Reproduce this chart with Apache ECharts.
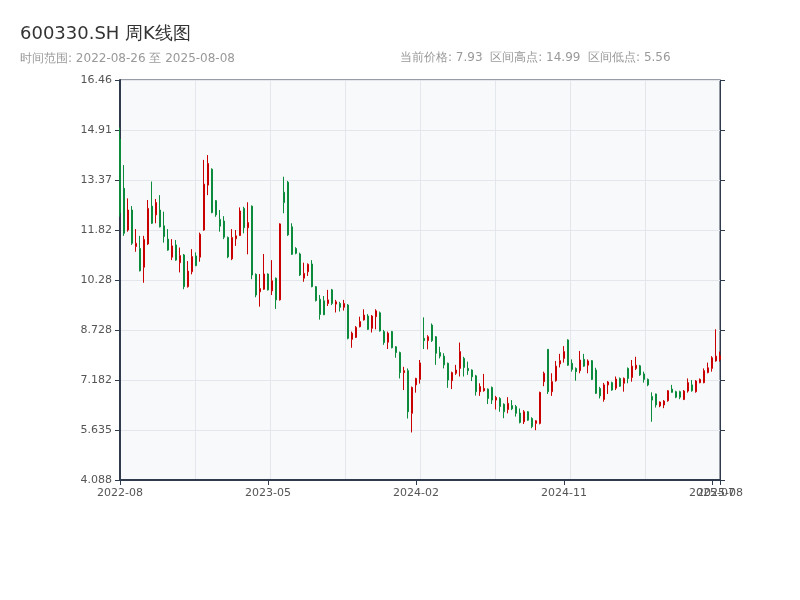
<!DOCTYPE html>
<html>
<head>
<meta charset="utf-8">
<script src="https://cdn.jsdelivr.net/npm/echarts@6.0.0/dist/echarts.min.js"></script>
<style>html,body{margin:0;padding:0;background:#fff;}#main{width:800px;height:600px;}</style>
</head>
<body>
<div id="main"></div>
<script>
const dates = [
'2022-08-26','2022-09-02','2022-09-09','2022-09-16','2022-09-23','2022-09-30','2022-10-14','2022-10-21','2022-10-28','2022-11-04',
'2022-11-11','2022-11-18','2022-11-25','2022-12-02','2022-12-09','2022-12-16','2022-12-23','2022-12-30','2023-01-06','2023-01-13',
'2023-01-20','2023-02-03','2023-02-10','2023-02-17','2023-02-24','2023-03-03','2023-03-10','2023-03-17','2023-03-24','2023-03-31',
'2023-04-07','2023-04-14','2023-04-21','2023-04-28','2023-05-05','2023-05-12','2023-05-19','2023-05-26','2023-06-02','2023-06-09',
'2023-06-16','2023-06-21','2023-06-30','2023-07-07','2023-07-14','2023-07-21','2023-07-28','2023-08-04','2023-08-11','2023-08-18',
'2023-08-25','2023-09-01','2023-09-08','2023-09-15','2023-09-22','2023-09-28','2023-10-13','2023-10-20','2023-10-27','2023-11-03',
'2023-11-10','2023-11-17','2023-11-24','2023-12-01','2023-12-08','2023-12-15','2023-12-22','2023-12-29','2024-01-05','2024-01-12',
'2024-01-19','2024-01-26','2024-02-02','2024-02-08','2024-02-23','2024-03-01','2024-03-08','2024-03-15','2024-03-22','2024-03-29',
'2024-04-03','2024-04-12','2024-04-19','2024-04-26','2024-04-30','2024-05-10','2024-05-17','2024-05-24','2024-05-31','2024-06-07',
'2024-06-14','2024-06-21','2024-06-28','2024-07-05','2024-07-12','2024-07-19','2024-07-26','2024-08-02','2024-08-09','2024-08-16',
'2024-08-23','2024-08-30','2024-09-06','2024-09-13','2024-09-20','2024-09-27','2024-09-30','2024-10-11','2024-10-18','2024-10-25',
'2024-11-01','2024-11-08','2024-11-15','2024-11-22','2024-11-29','2024-12-06','2024-12-13','2024-12-20','2024-12-27','2025-01-03',
'2025-01-10','2025-01-17','2025-01-24','2025-01-27','2025-02-07','2025-02-14','2025-02-21','2025-02-28','2025-03-07','2025-03-14',
'2025-03-21','2025-03-28','2025-04-03','2025-04-11','2025-04-18','2025-04-25','2025-04-30','2025-05-09','2025-05-16','2025-05-23',
'2025-05-30','2025-06-06','2025-06-13','2025-06-20','2025-06-27','2025-07-04','2025-07-11','2025-07-18','2025-07-25','2025-08-01',
'2025-08-08'
];
const opens = [
14.63,13.11,11.82,12.44,11.31,11.25,10.67,11.39,12.56,12.29,
12.44,11.95,11.54,10.98,11.36,10.81,11.05,10.07,10.53,11.02,
10.98,11.82,13.21,13.70,12.73,12.15,12.10,11.59,10.93,11.55,
11.65,12.49,11.89,12.56,10.45,9.91,9.99,10.46,9.94,10.33,
9.66,12.99,13.30,11.92,11.25,11.08,10.33,10.53,10.77,10.07,
9.68,9.63,9.55,9.97,9.53,9.55,9.43,9.50,8.44,8.50,
8.83,9.04,9.16,8.78,9.14,9.26,8.68,8.35,8.68,8.21,
8.03,7.41,7.47,6.15,7.03,7.20,8.47,8.40,8.88,8.52,
8.03,7.92,7.70,7.16,7.39,7.54,7.85,7.54,7.49,7.31,
6.82,6.85,6.90,6.95,6.56,6.61,6.43,6.27,6.39,6.36,
6.16,5.89,6.20,5.99,5.84,5.84,7.13,8.13,6.82,7.16,
7.68,7.85,8.42,7.70,7.54,7.47,7.82,7.64,7.78,7.49,
6.92,6.58,7.03,7.10,6.93,7.23,7.08,7.54,7.26,7.54,
7.62,7.37,7.20,6.67,6.75,6.38,6.41,6.54,6.90,6.82,
6.82,6.58,6.84,7.03,6.82,7.10,7.10,7.41,7.54,7.77,
7.82
];
const closes = [
12.35,11.72,12.44,11.41,11.41,10.56,11.53,12.49,12.03,12.67,
11.92,11.62,11.20,11.33,10.89,11.03,10.07,10.55,11.00,10.72,
11.69,13.24,13.88,12.36,12.29,11.94,11.60,10.99,11.59,11.64,
12.41,11.89,12.05,10.43,9.81,10.01,10.46,9.97,10.25,9.66,
12.01,12.67,11.67,11.07,11.10,10.43,10.48,10.76,10.07,9.64,
9.21,9.20,9.66,9.55,9.60,9.43,9.55,8.47,8.63,8.81,
8.99,9.19,8.75,9.16,9.32,8.70,8.34,8.63,8.18,8.03,
7.41,7.47,6.20,6.95,7.23,7.71,8.40,8.52,8.40,8.01,
7.92,7.65,7.18,7.41,7.49,8.06,7.57,7.47,7.28,6.82,
6.98,6.92,6.61,6.56,6.64,6.36,6.20,6.46,6.29,6.15,
5.87,6.20,5.94,5.74,5.92,6.80,7.39,6.82,7.13,7.61,
7.78,8.06,7.64,7.51,7.44,7.80,7.61,7.77,7.20,6.77,
6.69,7.03,7.12,6.87,7.21,6.99,7.23,7.23,7.61,7.64,
7.34,7.20,7.03,6.56,6.41,6.50,6.53,6.85,6.80,6.65,
6.65,6.84,7.10,6.85,7.15,7.20,7.47,7.56,7.87,7.92,
7.93
];
const lows = [
12.23,11.64,11.77,11.36,11.15,10.54,10.19,11.36,12.01,12.03,
11.90,11.43,11.18,10.89,10.87,10.51,9.99,10.04,10.45,10.70,
10.84,11.80,12.90,12.34,12.23,11.77,11.54,10.95,10.89,11.33,
11.64,11.72,11.07,10.30,9.74,9.45,9.97,9.95,9.81,9.38,
9.64,12.34,11.64,11.05,11.07,10.40,10.22,10.40,10.05,9.61,
9.05,9.19,9.47,9.50,9.27,9.30,9.33,8.44,8.18,8.48,
8.81,9.02,8.73,8.65,8.75,8.68,8.27,8.14,8.16,7.87,
7.23,6.87,5.99,5.56,6.79,7.07,8.14,8.13,8.36,7.65,
7.85,7.54,6.94,6.90,7.34,7.29,7.29,7.34,7.15,6.70,
6.69,6.82,6.44,6.44,6.27,6.20,6.00,6.15,6.25,6.05,
5.84,5.82,5.92,5.69,5.63,5.81,6.99,6.75,6.69,7.13,
7.57,7.72,7.62,7.44,7.16,7.39,7.59,7.39,7.18,6.75,
6.61,6.51,6.75,6.85,6.87,6.97,6.82,7.08,7.13,7.49,
7.31,7.10,6.99,5.89,6.33,6.34,6.31,6.51,6.79,6.62,
6.59,6.56,6.79,6.82,6.79,7.08,7.08,7.39,7.44,7.75,
7.75
];
const highs = [
14.99,13.83,12.80,12.56,11.85,11.64,11.64,12.75,13.32,12.78,
12.90,12.39,11.85,11.54,11.51,11.28,11.08,10.86,11.23,11.13,
11.74,13.99,14.14,13.73,12.75,12.44,12.25,11.62,11.85,11.82,
12.52,12.54,12.68,12.58,10.48,10.46,11.08,10.48,10.89,10.35,
12.03,13.47,13.34,12.03,11.29,11.12,10.81,10.79,10.89,10.09,
9.81,9.78,9.97,10.00,9.66,9.60,9.66,9.53,8.68,8.85,
9.14,9.37,9.22,9.19,9.37,9.30,8.73,8.68,8.70,8.23,
8.06,7.59,7.54,6.98,7.25,7.80,9.12,8.57,8.93,8.54,
8.21,8.01,7.72,7.44,7.65,8.34,7.90,7.75,7.51,7.34,
7.08,7.37,6.92,6.98,6.69,6.65,6.46,6.65,6.56,6.41,
6.30,6.25,6.22,6.03,5.94,6.82,7.44,8.14,7.39,7.77,
7.99,8.23,8.44,7.82,7.57,8.08,7.99,7.82,7.80,7.56,
6.97,7.09,7.15,7.13,7.29,7.26,7.26,7.57,7.80,7.90,
7.65,7.44,7.23,6.80,6.76,6.52,6.56,6.87,7.03,6.85,
6.85,6.87,7.23,7.18,7.18,7.23,7.54,7.72,7.92,8.75,
8.06
];
// category indices that carry an x tick and label
const xTickIndex = [0, 37, 74, 111, 148, 150];
const titleText = '600330.SH 周K线图';
const rangeText = '时间范围: 2022-08-26 至 2025-08-08';
const statsText = '当前价格: 7.93  区间高点: 14.99  区间低点: 5.56';
const yMin = 4.08843;
const yInterval = 1.54665;
const yMax = 16.46163;

const kData = dates.map((d, i) => [opens[i], closes[i], lows[i], highs[i]]);
const axisColor = '#2f3b4c';
const gridLineColor = '#e3e6ea';
const labelColor = '#555';
const fontFamily = 'DejaVu Sans';

const chart = echarts.init(document.getElementById('main'), null, {renderer: 'canvas'});
chart.setOption({
  animation: false,
  backgroundColor: '#ffffff',
  textStyle: {fontFamily: fontFamily},
  title: [
    {
      text: titleText, subtext: rangeText, left: 15, top: 20, itemGap: 10,
      textStyle: {fontSize: 18, fontWeight: 'normal', color: '#333', fontFamily: fontFamily},
      subtextStyle: {fontSize: 12, color: '#999', fontFamily: fontFamily}
    },
    {
      text: statsText, left: 395, top: 47,
      textStyle: {fontSize: 12, fontWeight: 'normal', color: '#999', fontFamily: fontFamily}
    }
  ],
  grid: {
    left: 120, right: 80, top: 80, bottom: 120,
    show: true, backgroundColor: '#f8f9fb', borderColor: axisColor, borderWidth: 1
  },
  xAxis: [
    {
      type: 'category', data: dates, boundaryGap: false,
      axisLine: {lineStyle: {color: axisColor, width: 2}},
      axisTick: {interval: (idx) => xTickIndex.indexOf(idx) >= 0, lineStyle: {color: axisColor}},
      axisLabel: {interval: 0, color: labelColor, fontSize: 11, fontFamily: fontFamily,
        formatter: (v, idx) => xTickIndex.indexOf(idx) >= 0 ? v.slice(0, 7) : ''},
      splitLine: {show: false}
    },
    {
      type: 'value', min: 0, max: 8, interval: 1, position: 'top',
      axisLine: {show: false}, axisTick: {show: false}, axisLabel: {show: false},
      splitLine: {show: true, lineStyle: {color: gridLineColor}}
    }
  ],
  yAxis: [
    {
      type: 'value', min: yMin, max: yMax, interval: yInterval, scale: true,
      axisLine: {show: true, lineStyle: {color: axisColor, width: 2}},
      axisTick: {show: true, lineStyle: {color: axisColor}},
      axisLabel: {color: labelColor, fontSize: 11, fontFamily: fontFamily, formatter: v => Number(v).toPrecision(4)},
      splitLine: {show: true, lineStyle: {color: gridLineColor}}
    },
    {
      type: 'value', min: yMin, max: yMax, interval: yInterval, scale: true, position: 'right',
      axisLine: {show: true, lineStyle: {color: axisColor}},
      axisTick: {show: true, lineStyle: {color: axisColor}},
      axisLabel: {show: false},
      splitLine: {show: false}
    }
  ],
  series: [{
    type: 'candlestick', xAxisIndex: 0, yAxisIndex: 0, data: kData,
    itemStyle: {color: '#ff2a2a', color0: '#0b8b3b', borderColor: '#c80000', borderColor0: '#0b8b3b'}
  }]
});
</script>
</body>
</html>
